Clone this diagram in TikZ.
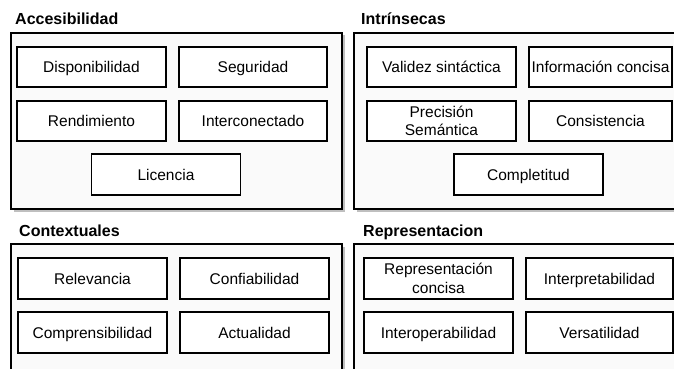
\documentclass[tikz,border=0pt]{standalone}
\usepackage{fontspec}
\setmainfont{Liberation Sans}
\usepackage{tikz}
\usetikzlibrary{shadows}
\def\letra{\fontsize{15.5}{18.5}\selectfont}

\begin{document}
\begin{tikzpicture}[x=1pt,y=-1pt,inner sep=0pt,
  grupo/.style={draw=black, line width=1.4pt, fill=black!2, drop shadow={shadow xshift=2.5pt, shadow yshift=-2.5pt, fill=black!25, opacity=1}},
  cuadro/.style={draw=black, line width=1.3pt, fill=white, minimum width=149pt, minimum height=40pt, align=center, font=\letra, text height=13.5pt, text depth=2.5pt},
  doble/.style={text height={}, text depth={}},
  titulo/.style={anchor=base west, font=\fontsize{16}{18}\selectfont\bfseries}]
\useasboundingbox (0,0) rectangle (674,369);
% grupos
\node[grupo, minimum width=331pt, minimum height=176pt] (acc) at (176.5,121) {};
\node[grupo, minimum width=346pt, minimum height=176pt] (intr) at (527,121) {};
\node[grupo, minimum width=331pt, minimum height=140pt] (ctx) at (176.5,314) {};
\node[grupo, minimum width=346pt, minimum height=140pt] (rep) at (527,314) {};
\node[titulo] (tacc) at (15,25) {Accesibilidad};
\node[titulo] (tintr) at (361,25) {Intrínsecas};
\node[titulo] (tctx) at (19,236) {Contextuales};
\node[titulo] (trep) at (363,236) {Representacion};
% Accesibilidad
\node[cuadro] (disp) at (91.5,67) {Disponibilidad};
\node[cuadro, minimum width=148pt] (seg) at (253,67) {Seguridad};
\node[cuadro] (rend) at (91.5,121) {Rendimiento};
\node[cuadro, minimum width=148pt] (inter) at (253,121) {Interconectado};
\node[cuadro, minimum height=41pt] (lic) at (166,174.5) {Licencia};
% Intrinsecas
\node[cuadro] (val) at (441.5,67) {Validez sintáctica};
\node[cuadro, minimum width=143pt] (info) at (600.5,67) {Información concisa};
\node[cuadro, doble] (prec) at (441.5,121) {Precisión\\Semántica};
\node[cuadro, minimum width=143pt] (cons) at (600.5,121) {Consistencia};
\node[cuadro, minimum height=41pt] (compl) at (528.5,174.5) {Completitud};
% Contextuales
\node[cuadro, minimum height=41pt] (rel) at (92.5,278.5) {Relevancia};
\node[cuadro, minimum height=41pt] (conf) at (254.5,278.5) {Confiabilidad};
\node[cuadro, minimum height=41pt] (compr) at (92.5,332.5) {Comprensibilidad};
\node[cuadro, minimum height=41pt] (act) at (254.5,332.5) {Actualidad};
% Representacion
\node[cuadro, doble, minimum height=41pt] (repc) at (438.5,278.5) {Representación\\concisa};
\node[cuadro, minimum width=147pt, minimum height=41pt] (interp) at (599.5,278.5) {Interpretabilidad};
\node[cuadro, minimum height=41pt] (interop) at (438.5,332.5) {Interoperabilidad};
\node[cuadro, minimum width=147pt, minimum height=41pt] (vers) at (599.5,332.5) {Versatilidad};
\end{tikzpicture}
\end{document}
